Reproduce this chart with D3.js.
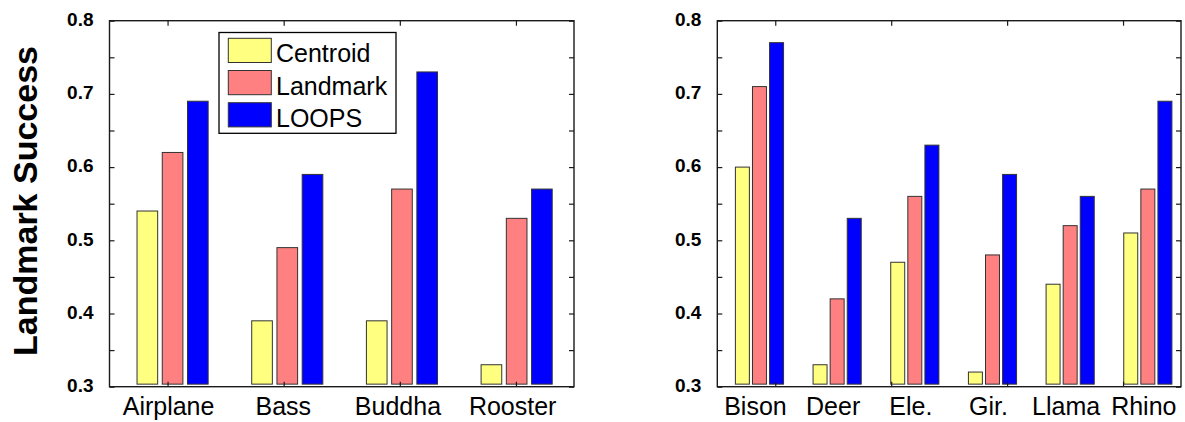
<!DOCTYPE html>
<html>
<head>
<meta charset="utf-8">
<script src="https://cdn.jsdelivr.net/npm/d3@7"></script>
<style>
  html, body { margin: 0; padding: 0; background: #fff; }
  svg { display: block; font-family: "Liberation Sans", Arial, sans-serif; }
</style>
</head>
<body>
<svg id="chart" width="1185" height="422"></svg>
<script>
// ---- data ----
const seriesNames = ["Centroid", "Landmark", "LOOPS"];
const seriesColors = ["#ffff80", "#ff8080", "#0000ff"];

const leftCategories = ["Airplane", "Bass", "Buddha", "Rooster"];
const leftCentroid = [0.54, 0.39, 0.39, 0.33];
const leftLandmark = [0.62, 0.49, 0.57, 0.53];
const leftLoops    = [0.69, 0.59, 0.73, 0.57];

const rightCategories = ["Bison", "Deer", "Ele.", "Gir.", "Llama", "Rhino"];
const rightCentroid = [0.60, 0.33, 0.47, 0.32, 0.44, 0.51];
const rightLandmark = [0.71, 0.42, 0.56, 0.48, 0.52, 0.57];
const rightLoops    = [0.77, 0.53, 0.63, 0.59, 0.56, 0.69];

const yMajorTicks = [0.3, 0.4, 0.5, 0.6, 0.7, 0.8];
const yMinorTicks = [0.35, 0.45, 0.55, 0.65, 0.75];
const xTickSlots = [1, 2, 3, 4];
const yTitle = "Landmark Success";

// ---- layout ----
const svg = d3.select("#chart");
const plotTop = 20.7, plotBottom = 386.7;
const barBase = 0.3035;          // bars stop just above the lower axis line
const barWidth = 0.18, barPitch = 0.22;
const axisColor = "#1a1a1a";

const y = d3.scaleLinear().domain([0.3, 0.8]).range([plotBottom, plotTop]);

function panel(opts) {
  const { x0, x1, cats, series, barDomain, showLegend } = opts;
  const g = svg.append("g");
  const xb = d3.scaleLinear().domain(barDomain).range([x0, x1]);
  const xt = d3.scaleLinear().domain([0.5, 4.5]).range([x0, x1]);
  const allY = yMajorTicks.concat(yMinorTicks);
  const fmt = d => yMajorTicks.includes(d) ? d.toFixed(1) : "";

  // bars
  series.forEach((vals, s) => {
    g.append("g").selectAll("rect")
      .data(vals)
      .join("rect")
      .attr("x", (d, i) => xb(i + 1 + (s - 1) * barPitch - barWidth / 2))
      .attr("width", xb(barWidth) - xb(0))
      .attr("y", d => y(d))
      .attr("height", d => y(barBase) - y(d))
      .attr("fill", seriesColors[s])
      .attr("stroke", "#333")
      .attr("stroke-width", 1);
  });

  // axes (ticks point inward on all four sides)
  const yAxisG = g.append("g").attr("transform", `translate(${x0},0)`)
    .call(d3.axisLeft(y).tickValues(allY).tickFormat(fmt).tickSizeInner(-5).tickSizeOuter(0).tickPadding(16));
  yAxisG.selectAll("text").attr("font-size", 19).attr("font-weight", "bold")
    .attr("fill", "#000").attr("font-family", "Liberation Sans, Arial, sans-serif").attr("dy", "0.25em");
  g.append("g").attr("transform", `translate(${x1},0)`)
    .call(d3.axisRight(y).tickValues(allY).tickFormat("").tickSizeInner(-5).tickSizeOuter(0));
  g.append("g").attr("transform", `translate(0,${plotTop})`)
    .call(d3.axisTop(xt).tickValues(xTickSlots).tickFormat("").tickSizeInner(-5).tickSizeOuter(0));
  g.append("g").attr("transform", `translate(0,${plotBottom})`)
    .call(d3.axisBottom(xt).tickValues(xTickSlots).tickFormat("").tickSizeInner(-5).tickSizeOuter(0));
  g.selectAll(".domain").remove();
  g.selectAll(".tick line").attr("stroke", axisColor).attr("stroke-width", 1.2);

  // frame
  g.append("rect")
    .attr("x", x0).attr("y", plotTop)
    .attr("width", x1 - x0).attr("height", plotBottom - plotTop)
    .attr("fill", "none").attr("stroke", axisColor).attr("stroke-width", 1.4);

  // category labels
  g.append("g").selectAll("text")
    .data(cats)
    .join("text")
    .attr("x", (d, i) => xb(i + 1) - 4)
    .attr("y", 414.5)
    .attr("text-anchor", "middle")
    .attr("font-size", 25)
    .attr("fill", "#000")
    .text(d => d);

  if (showLegend) {
    const lx = x0 + 109.5, ly = 32.5;
    const lg = g.append("g").attr("transform", `translate(${lx},${ly})`);
    lg.append("rect").attr("width", 177).attr("height", 100.8)
      .attr("fill", "#fff").attr("stroke", "#000").attr("stroke-width", 1.3);
    seriesNames.forEach((name, i) => {
      lg.append("rect")
        .attr("x", 9.3).attr("y", 5.8 + i * 32.2)
        .attr("width", 43).attr("height", 24.2)
        .attr("fill", seriesColors[i]).attr("stroke", "#333").attr("stroke-width", 1);
      lg.append("text")
        .attr("x", 57).attr("y", 29.8 + i * 32.2)
        .attr("font-size", 25).attr("fill", "#000")
        .text(name);
    });
  }
}

panel({
  x0: 109.5, x1: 574,
  cats: leftCategories,
  series: [leftCentroid, leftLandmark, leftLoops],
  barDomain: [0.45, 4.5],
  showLegend: true
});

panel({
  x0: 717.3, x1: 1181,
  cats: rightCategories,
  series: [rightCentroid, rightLandmark, rightLoops],
  barDomain: [0.457, 6.427],
  showLegend: false
});

// shared y-axis title
svg.append("text")
  .attr("transform", "translate(37,201) rotate(-90)")
  .attr("text-anchor", "middle")
  .attr("font-size", 34)
  .attr("font-weight", "bold")
  .attr("fill", "#000")
  .text(yTitle);
</script>
</body>
</html>
